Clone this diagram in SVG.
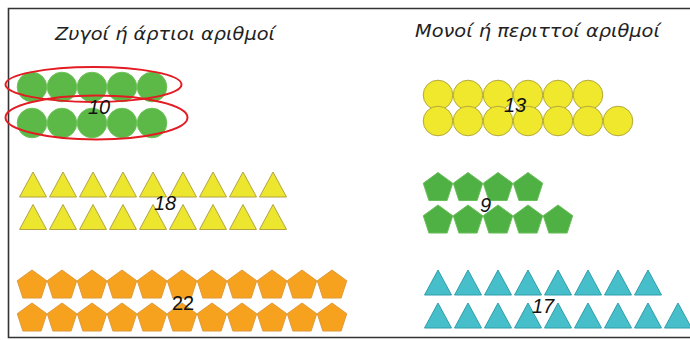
<svg xmlns="http://www.w3.org/2000/svg" xmlns:xlink="http://www.w3.org/1999/xlink" width="690" height="340" viewBox="0 0 690 340">
<style>
.title{font-family:"DejaVu Sans","Liberation Sans",sans-serif;font-style:italic;font-size:18px;fill:#222}
.num{font-family:"Liberation Sans","DejaVu Sans",sans-serif;font-style:italic;font-size:20px;fill:#111}
.gc{fill:#5cb847;stroke:#6cc257;stroke-width:1}
.yc{fill:#efe82c;stroke:#b5a83c;stroke-width:1}
.yt{fill:#ece62e;stroke:#b3a440;stroke-width:1}
.gp{fill:#4fb043;stroke:#6abf5c;stroke-width:1}
.op{fill:#f6a21f;stroke:#e09a3a;stroke-width:1}
.ct{fill:#46bfcb;stroke:#2f9fab;stroke-width:1}
.ring{fill:none;stroke:#e31b23;stroke-width:2}
</style>
<defs>
<circle id="circ" r="14.8"/>
<path id="tri" d="M0,-12.5 L13.5,12.5 L-13.5,12.5 Z"/>
<path id="pent" d="M0,-15.5 L14.74,-4.79 L9.11,12.54 L-9.11,12.54 L-14.74,-4.79 Z"/>
</defs>
<rect width="690" height="340" fill="#fff"/>
<path d="M700,8.5 H8.5 V337.5 H700" fill="none" stroke="#333" stroke-width="1.6"/>
<text class="title" x="55" y="40" textLength="220" lengthAdjust="spacingAndGlyphs">Ζυγοί ή άρτιοι αριθμοί</text>
<text class="title" x="415" y="37" textLength="245" lengthAdjust="spacingAndGlyphs">Μονοί ή περιττοί αριθμοί</text>

<g id="even-10">
<g class="gc">
<use href="#circ" x="32" y="87"/><use href="#circ" x="62" y="87"/><use href="#circ" x="92" y="87"/><use href="#circ" x="122" y="87"/><use href="#circ" x="152" y="87"/>
<use href="#circ" x="32" y="123"/><use href="#circ" x="62" y="123"/><use href="#circ" x="92" y="123"/><use href="#circ" x="122" y="123"/><use href="#circ" x="152" y="123"/>
</g>
<ellipse class="ring" cx="93.5" cy="84.5" rx="88" ry="17.5"/>
<ellipse class="ring" cx="96.5" cy="117.5" rx="91" ry="22"/>
<text class="num" x="88" y="114">10</text>
</g>

<g id="odd-13">
<g class="yc">
<use href="#circ" x="438" y="95"/><use href="#circ" x="468" y="95"/><use href="#circ" x="498" y="95"/><use href="#circ" x="528" y="95"/><use href="#circ" x="558" y="95"/><use href="#circ" x="588" y="95"/>
<use href="#circ" x="438" y="121"/><use href="#circ" x="468" y="121"/><use href="#circ" x="498" y="121"/><use href="#circ" x="528" y="121"/><use href="#circ" x="558" y="121"/><use href="#circ" x="588" y="121"/><use href="#circ" x="618" y="121"/>
</g>
<text class="num" x="504" y="112">13</text>
</g>

<g id="even-18">
<g class="yt">
<use href="#tri" x="33" y="184.5"/><use href="#tri" x="63" y="184.5"/><use href="#tri" x="93" y="184.5"/><use href="#tri" x="123" y="184.5"/><use href="#tri" x="153" y="184.5"/><use href="#tri" x="183" y="184.5"/><use href="#tri" x="213" y="184.5"/><use href="#tri" x="243" y="184.5"/><use href="#tri" x="273" y="184.5"/>
<use href="#tri" x="33" y="217"/><use href="#tri" x="63" y="217"/><use href="#tri" x="93" y="217"/><use href="#tri" x="123" y="217"/><use href="#tri" x="153" y="217"/><use href="#tri" x="183" y="217"/><use href="#tri" x="213" y="217"/><use href="#tri" x="243" y="217"/><use href="#tri" x="273" y="217"/>
</g>
<text class="num" x="154" y="210">18</text>
</g>

<g id="odd-9">
<g class="gp">
<use href="#pent" x="438" y="188"/><use href="#pent" x="468" y="188"/><use href="#pent" x="498" y="188"/><use href="#pent" x="528" y="188"/>
<use href="#pent" x="438" y="220.5"/><use href="#pent" x="468" y="220.5"/><use href="#pent" x="498" y="220.5"/><use href="#pent" x="528" y="220.5"/><use href="#pent" x="558" y="220.5"/>
</g>
<text class="num" x="480" y="212">9</text>
</g>

<g id="even-22">
<g class="op">
<use href="#pent" x="32" y="285.5"/><use href="#pent" x="62" y="285.5"/><use href="#pent" x="92" y="285.5"/><use href="#pent" x="122" y="285.5"/><use href="#pent" x="152" y="285.5"/><use href="#pent" x="182" y="285.5"/><use href="#pent" x="212" y="285.5"/><use href="#pent" x="242" y="285.5"/><use href="#pent" x="272" y="285.5"/><use href="#pent" x="302" y="285.5"/><use href="#pent" x="332" y="285.5"/>
<use href="#pent" x="32" y="318.5"/><use href="#pent" x="62" y="318.5"/><use href="#pent" x="92" y="318.5"/><use href="#pent" x="122" y="318.5"/><use href="#pent" x="152" y="318.5"/><use href="#pent" x="182" y="318.5"/><use href="#pent" x="212" y="318.5"/><use href="#pent" x="242" y="318.5"/><use href="#pent" x="272" y="318.5"/><use href="#pent" x="302" y="318.5"/><use href="#pent" x="332" y="318.5"/>
</g>
<text class="num" x="172" y="310" style="font-style:normal">22</text>
</g>

<g id="odd-17">
<g class="ct">
<use href="#tri" x="438" y="282.5"/><use href="#tri" x="468" y="282.5"/><use href="#tri" x="498" y="282.5"/><use href="#tri" x="528" y="282.5"/><use href="#tri" x="558" y="282.5"/><use href="#tri" x="588" y="282.5"/><use href="#tri" x="618" y="282.5"/><use href="#tri" x="648" y="282.5"/>
<use href="#tri" x="438" y="315.5"/><use href="#tri" x="468" y="315.5"/><use href="#tri" x="498" y="315.5"/><use href="#tri" x="528" y="315.5"/><use href="#tri" x="558" y="315.5"/><use href="#tri" x="588" y="315.5"/><use href="#tri" x="618" y="315.5"/><use href="#tri" x="648" y="315.5"/><use href="#tri" x="678" y="315.5"/>
</g>
<text class="num" x="532" y="313">17</text>
</g>
</svg>
